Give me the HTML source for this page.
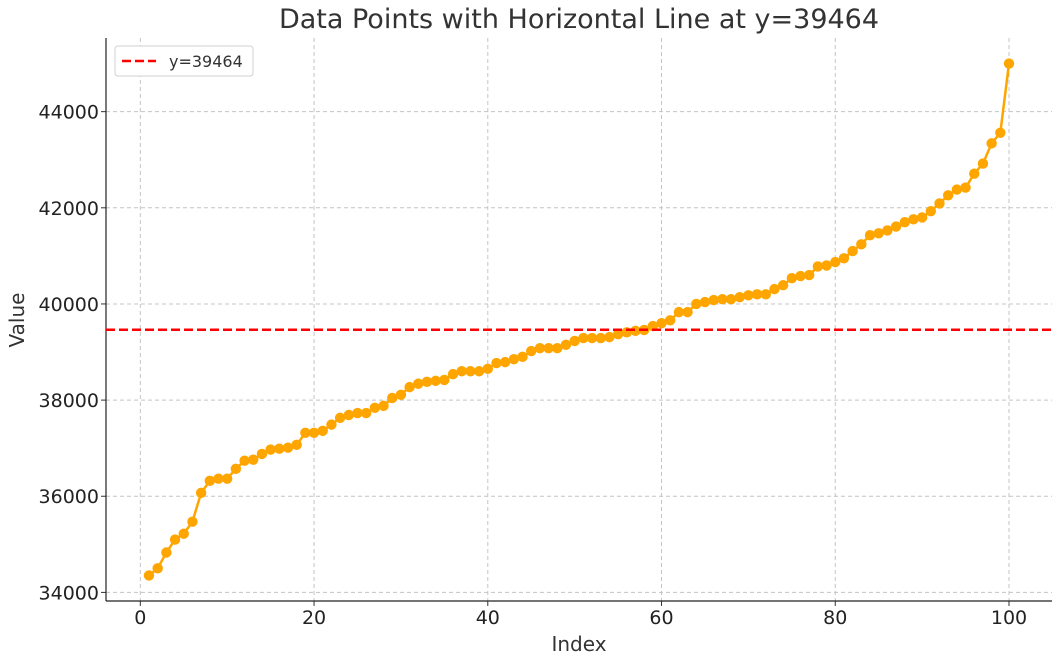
<!DOCTYPE html>
<html><head><meta charset="utf-8"><style>
body{margin:0;background:#fff;}
svg{display:block;font-family:"DejaVu Sans","Liberation Sans",sans-serif;}
</style></head><body>
<svg id="chart" width="1062" height="665"></svg>
<script>
const values=[34353,34500,34830,35100,35220,35470,36070,36320,36365,36365,36570,36740,36760,36880,36970,36990,37010,37070,37320,37320,37360,37490,37630,37690,37730,37730,37840,37880,38045,38110,38270,38340,38380,38400,38420,38540,38600,38600,38600,38650,38770,38790,38850,38900,39020,39080,39080,39080,39150,39230,39290,39290,39290,39310,39370,39410,39440,39460,39540,39600,39660,39830,39830,40000,40040,40080,40100,40100,40140,40180,40200,40200,40310,40390,40535,40580,40600,40780,40800,40870,40950,41100,41240,41430,41470,41530,41610,41700,41760,41800,41930,42090,42260,42380,42420,42710,42920,43340,43560,45000];
const hline=39464;
const xTicks=[0,20,40,60,80,100];
const yTicks=[34000,36000,38000,40000,42000,44000];
const NS='http://www.w3.org/2000/svg';
const svg=document.getElementById('chart');
const L=106,R=1052,T=38,B=601;
const x0=-3.95,x1=104.95,y0=33821,y1=45532;
const X=v=>L+(v-x0)/(x1-x0)*(R-L);
const Y=v=>B-(v-y0)/(y1-y0)*(B-T);
function mk(t,a,txt){const e=document.createElementNS(NS,t);for(const k in a)e.setAttribute(k,a[k]);if(txt!==undefined)e.textContent=txt;svg.appendChild(e);return e;}
let e;
xTicks.forEach(t=>{
 e=mk('line',{x1:X(t),x2:X(t),y1:T,y2:B,stroke:'#c4c4c4','stroke-dasharray':'4,3','stroke-width':1});
 
 
 e=mk('line',{x1:X(t),x2:X(t),y1:B,y2:B+5,stroke:'#333'});
 
 
 e=mk('text',{x:X(t),y:B+23,'text-anchor':'middle','font-size':19,fill:'#222'},t);
 
 
});
yTicks.forEach(t=>{
 e=mk('line',{x1:L,x2:R,y1:Y(t),y2:Y(t),stroke:'#c4c4c4','stroke-dasharray':'4,3','stroke-width':1});
 
 
 e=mk('line',{x1:L-5,x2:L,y1:Y(t),y2:Y(t),stroke:'#333'});
 
 
 e=mk('text',{x:L-7,y:Y(t)+7,'text-anchor':'end','font-size':19,fill:'#222'},t);
 
 
});
e=mk('line',{x1:L,x2:L,y1:T,y2:B,stroke:'#222','stroke-width':1.2});


e=mk('line',{x1:L,x2:R,y1:B,y2:B,stroke:'#222','stroke-width':1.2});


const pts=values.map((v,i)=>X(i+1)+','+Y(v)).join(' ');
e=mk('polyline',{points:pts,fill:'none',stroke:'#FFA500','stroke-width':2.5});


values.forEach((v,i)=>{
 e=mk('circle',{cx:X(i+1),cy:Y(v),r:5.2,fill:'#FFA500'});
 
 
});
e=mk('line',{x1:L,x2:R,y1:Y(hline),y2:Y(hline),stroke:'#ff0000','stroke-width':2.5,'stroke-dasharray':'9,4'});


e=mk('rect',{x:115,y:46,width:138,height:30,rx:3,fill:'#fff',stroke:'#d0d0d0'});


e=mk('line',{x1:122,x2:156,y1:61,y2:61,stroke:'#ff0000','stroke-width':2.5,'stroke-dasharray':'9,4'});


e=mk('text',{x:169,y:67,'font-size':16,fill:'#333'},'y='+hline);


e=mk('text',{x:579,y:28,'text-anchor':'middle','font-size':27,fill:'#333'},'Data Points with Horizontal Line at y='+hline);


e=mk('text',{x:579,y:651,'text-anchor':'middle','font-size':20,fill:'#333'},'Index');


e=mk('text',{x:24,y:320,'text-anchor':'middle','font-size':20,fill:'#333',transform:'rotate(-90 24 320)'},'Value');


</script>
</body></html>
